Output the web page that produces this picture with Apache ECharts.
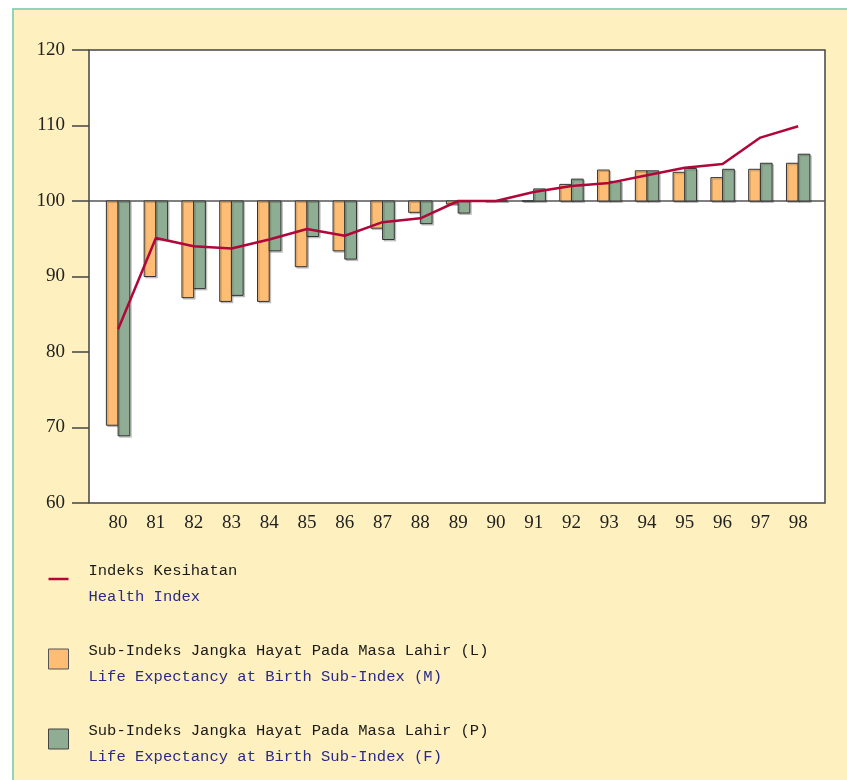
<!DOCTYPE html>
<html>
<head>
<meta charset="utf-8">
<script src="https://cdn.jsdelivr.net/npm/echarts@6/dist/echarts.min.js"></script>
<style>
  html, body { margin: 0; padding: 0; background: #fff; }
  .panel {
    position: absolute; left: 12px; top: 8px; width: 835px; height: 772px;
    background: #fff1bf;
    border-left: 2px solid #8fd4bb; border-top: 2px solid #8fd4bb;
    box-sizing: border-box;
  }
  #chart { position: absolute; left: 0; top: 0; width: 847px; height: 780px; }
</style>
</head>
<body>
<div class="panel"></div>
<div id="chart"></div>
<script>
// tahun (19xx)
const years = [80, 81, 82, 83, 84, 85, 86, 87, 88, 89, 90, 91, 92, 93, 94, 95, 96, 97, 98];
// Indeks Kesihatan
const healthIndex = [83.0, 95.1, 94.0, 93.7, 94.9, 96.3, 95.4, 97.2, 97.7, 100, 100, 101.2, 102.0, 102.4, 103.4, 104.4, 104.9, 108.4, 109.9];
// Sub-indeks lelaki (L / M)
const lifeMale = [70.3, 90.0, 87.2, 86.7, 86.7, 91.3, 93.4, 96.4, 98.5, 99.6, 100, 100, 102.2, 104.1, 104.0, 103.8, 103.1, 104.2, 105.0];
// Sub-indeks perempuan (P / F)
const lifeFemale = [68.9, 94.9, 88.4, 87.5, 93.4, 95.3, 92.3, 94.9, 97.0, 98.4, 100, 101.6, 102.9, 102.6, 104.0, 104.3, 104.2, 105.0, 106.2];
const yTicks = [60, 70, 80, 90, 100, 110, 120];

const nameHealth = 'Indeks Kesihatan';
const nameMale = 'Sub-Indeks Jangka Hayat Pada Masa Lahir (L)';
const nameFemale = 'Sub-Indeks Jangka Hayat Pada Masa Lahir (P)';
const english = {};
english[nameHealth] = 'Health Index';
english[nameMale] = 'Life Expectancy at Birth Sub-Index (M)';
english[nameFemale] = 'Life Expectancy at Birth Sub-Index (F)';

const barW = 0.31; // lebar bar dalam unit paksi x

function barRenderer(side) {
  return function (params, api) {
    const x = api.value(0);
    const v = api.value(1);
    const base = api.coord([x, 100]);
    const top = api.coord([x, v]);
    const w = api.size([barW, 0])[0];
    return {
      type: 'rect',
      shape: {
        x: base[0] + side * w,
        y: Math.min(base[1], top[1]),
        width: w,
        height: Math.abs(base[1] - top[1])
      },
      style: {
        fill: api.visual('color'),
        stroke: '#333',
        lineWidth: 1,
        shadowColor: 'rgba(0,0,0,0.18)',
        shadowOffsetX: 1.5,
        shadowOffsetY: 1.5,
        shadowBlur: 0
      }
    };
  };
}

const myChart = echarts.init(document.getElementById('chart'));
myChart.setOption({
  backgroundColor: 'transparent',
  animation: false,
  grid: {
    left: 89,
    top: 50,
    right: 22,
    bottom: 277,
    show: true,
    backgroundColor: '#fff',
    borderColor: '#444',
    borderWidth: 1.5
  },
  legend: {
    orient: 'vertical',
    left: 43,
    top: 544,
    itemWidth: 20,
    itemHeight: 20,
    itemGap: 24,
    selectedMode: false,
    symbolKeepAspect: true,
    data: [
      { name: nameHealth, icon: 'path://M0,0h20v2.5h-20z', itemStyle: { color: '#b0063a' } },
      { name: nameMale, icon: 'rect', itemStyle: { borderColor: '#555', borderWidth: 1 } },
      { name: nameFemale, icon: 'rect', itemStyle: { borderColor: '#444', borderWidth: 1 } }
    ],
    formatter: function (name) {
      // baris kosong di atas supaya ikon sedikit lebih tinggi dari teks
      return '{c| }\n{a|' + name + '}\n{b|' + english[name] + '}';
    },
    textStyle: {
      padding: [0, 0, 0, 15],
      rich: {
        c: { fontSize: 8, lineHeight: 10 },
        a: { fontFamily: 'Liberation Mono', fontSize: 15.5, color: '#1a1a1a', lineHeight: 26 },
        b: { fontFamily: 'Liberation Mono', fontSize: 15.5, color: '#2a2a8a', lineHeight: 26 }
      }
    }
  },
  xAxis: {
    type: 'value',
    min: 79.23,
    max: 98.71,
    splitLine: { show: false },
    axisLine: { show: false },
    axisTick: { show: false },
    axisLabel: {
      customValues: years,
      margin: 11,
      color: '#222',
      fontFamily: 'Liberation Serif',
      fontSize: 19
    }
  },
  yAxis: {
    type: 'value',
    min: 60,
    max: 120,
    interval: 10,
    axisLine: { show: false },
    axisTick: { show: true, inside: false, length: 17, lineStyle: { color: '#444', width: 1.5 } },
    splitLine: { show: false },
    axisLabel: {
      customValues: yTicks,
      margin: 24,
      color: '#222',
      fontFamily: 'Liberation Serif',
      fontSize: 19
    }
  },
  series: [
    {
      name: nameMale,
      type: 'custom',
      renderItem: barRenderer(-1),
      itemStyle: { color: '#fdbd74' },
      encode: { x: 0, y: 1 },
      data: years.map((y, i) => [y, lifeMale[i]]),
      z: 2
    },
    {
      name: nameFemale,
      type: 'custom',
      renderItem: barRenderer(0),
      itemStyle: { color: '#8fad93' },
      encode: { x: 0, y: 1 },
      data: years.map((y, i) => [y, lifeFemale[i]]),
      z: 2
    },
    {
      name: nameHealth,
      type: 'line',
      symbol: 'none',
      lineStyle: { color: '#b0063a', width: 2.5 },
      itemStyle: { color: '#b0063a' },
      data: years.map((y, i) => [y, healthIndex[i]]),
      z: 3,
      markLine: {
        silent: true,
        symbol: 'none',
        label: { show: false },
        lineStyle: { color: '#555', width: 1.5, type: 'solid' },
        data: [{ yAxis: 100 }],
        z: 1
      }
    }
  ]
});
</script>
</body>
</html>
